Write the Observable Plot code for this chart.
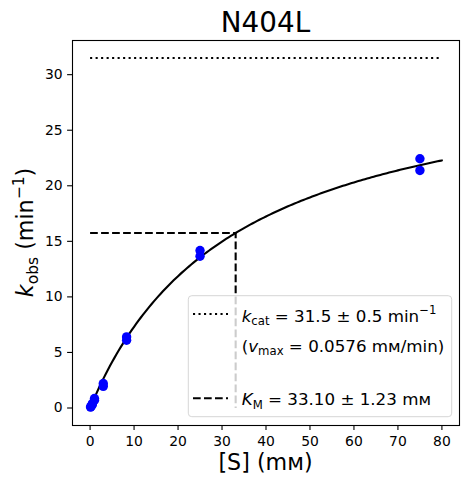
<!DOCTYPE html>
<html><head><meta charset="utf-8">
<script src="https://cdn.jsdelivr.net/npm/d3@7"></script>
<script src="https://cdn.jsdelivr.net/npm/@observablehq/plot@0.6"></script>
<style>body{margin:0;background:#fff;} svg text{white-space:pre;}</style>
</head><body><div id="chart"></div>
<script>
// ---- data ----
const chartTitle = "N404L";
const substrate = [0.1, 0.2, 0.5, 0.5, 1.0, 1.0, 3.0, 3.0, 8.3, 8.3, 25, 25, 75, 75];   // [S] (mM)
const kobsValues = [0.08, 0.12, 0.3, 0.38, 0.7, 0.85, 2.2, 1.95, 6.1, 6.4, 14.17, 13.66, 22.43, 21.38];
const kcat = 31.5, kcatErr = 0.5;
const vmax = 0.0576;
const KM = 33.10, KMErr = 1.23;
const curveMaxS = 80;
const xTicks = [0, 10, 20, 30, 40, 50, 60, 70, 80];
const yTicks = [0, 5, 10, 15, 20, 25, 30];

const points = substrate.map((s, i) => ({s, k: kobsValues[i]}));
// fitted Michaelis–Menten curve from the fit parameters in the legend
const fit = d3.range(0, curveMaxS + 1e-9, 0.5).map(s => ({s, k: kcat * s / (KM + s)}));
const kcatLine = [{s: 0, k: kcat}, {s: curveMaxS, k: kcat}];
const kmLine = [{s: 0, k: kcat / 2}, {s: KM, k: kcat / 2}, {s: KM, k: 0}];

const W = 469, H = 484, mL = 72, mR = 10, mT = 40, mB = 59;
const font = "DejaVu Sans";

const svg = Plot.plot({
  width: W, height: H,
  marginLeft: mL, marginRight: mR, marginTop: mT, marginBottom: mB,
  style: {fontFamily: font, fontSize: "13.9px", color: "black", background: "white"},
  x: {domain: [-4, 84]},
  y: {domain: [-1.575, 33.075]},
  marks: [
    Plot.line(kcatLine, {x: "s", y: "k", stroke: "black", strokeWidth: 2.1, strokeDasharray: "2.1,3.4", strokeLinecap: "butt"}),
    Plot.line(kmLine, {x: "s", y: "k", stroke: "black", strokeWidth: 2.1, strokeDasharray: "7.7,3.3", strokeLinecap: "butt"}),
    Plot.line(fit, {x: "s", y: "k", stroke: "black", strokeWidth: 2.1}),
    Plot.dot(points, {x: "s", y: "k", r: 4.7, fill: "#0000ff", stroke: null}),
    Plot.frame({stroke: "black", strokeWidth: 1.1}),
    Plot.axisX({ticks: xTicks, tickSize: 4.9, tickPadding: 6, strokeWidth: 1.1, label: null, fontSize: 13.9}),
    Plot.axisY({ticks: yTicks, tickSize: 4.9, tickPadding: 4.9, strokeWidth: 1.1, label: null, fontSize: 13.9})
  ]
});
document.getElementById("chart").appendChild(svg);

const g = d3.select(svg).append("g").attr("font-family", font).attr("fill", "black").attr("text-anchor", "start");

// title
g.append("text").attr("x", (mL + W - mR) / 2).attr("y", 31.5).attr("text-anchor", "middle")
  .attr("font-size", 27.8).text(chartTitle);

// helper to write text with sub/superscripts
function rich(sel, parts, size) {
  let shift = 0;
  for (const p of parts) {
    const t = sel.append("tspan").text(p.t);
    let target = 0, fs = size;
    if (p.sub) { target = 0.22 * size; fs = 0.7 * size; }
    if (p.sup) { target = -0.42 * size; fs = 0.7 * size; }
    t.attr("font-size", fs).attr("dy", target - shift);
    if (p.it) t.attr("font-style", "italic");
    shift = target;
  }
}

// x label
const xl = g.append("text").attr("x", (mL + W - mR) / 2).attr("y", 470).attr("text-anchor", "middle");
rich(xl, [{t: "[S] (mᴍ)"}], 22.2);

// y label
const yl = g.append("text").attr("transform", `translate(33,${(mT + H - mB) / 2}) rotate(-90)`).attr("text-anchor", "middle");
rich(yl, [{t: "k", it: true}, {t: "obs", sub: true}, {t: " (min"}, {t: "−1", sup: true}, {t: ")"}], 22.2);

// legend
const lg = g.append("g").attr("text-anchor", "start");
lg.append("rect").attr("x", 188.3).attr("y", 295.7).attr("width", 263.4).attr("height", 121)
  .attr("rx", 3.5).attr("fill", "white").attr("fill-opacity", 0.8)
  .attr("stroke", "#d6d6d6").attr("stroke-width", 1);
lg.append("line").attr("x1", 193).attr("x2", 228).attr("y1", 314).attr("y2", 314)
  .attr("stroke", "black").attr("stroke-width", 2.1).attr("stroke-dasharray", "2.1,3.4");
lg.append("line").attr("x1", 193).attr("x2", 228).attr("y1", 398.3).attr("y2", 398.3)
  .attr("stroke", "black").attr("stroke-width", 2.1).attr("stroke-dasharray", "7.7,3.3");
const LS = 16.7;
rich(lg.append("text").attr("x", 241.7).attr("y", 321.5).attr("text-anchor", "start"),
  [{t: "k", it: true}, {t: "cat", sub: true}, {t: ` = ${kcat.toFixed(1)} ± ${kcatErr.toFixed(1)} min`}, {t: "−1", sup: true}], LS);
rich(lg.append("text").attr("x", 241.7).attr("y", 351.5).attr("text-anchor", "start"),
  [{t: "("}, {t: "v", it: true}, {t: "max", sub: true}, {t: ` = ${vmax.toFixed(4)} mᴍ/min)`}], LS);
rich(lg.append("text").attr("x", 241.7).attr("y", 405).attr("text-anchor", "start"),
  [{t: "K", it: true}, {t: "M", sub: true}, {t: ` = ${KM.toFixed(2)} ± ${KMErr.toFixed(2)} mᴍ`}], LS);
</script></body></html>
